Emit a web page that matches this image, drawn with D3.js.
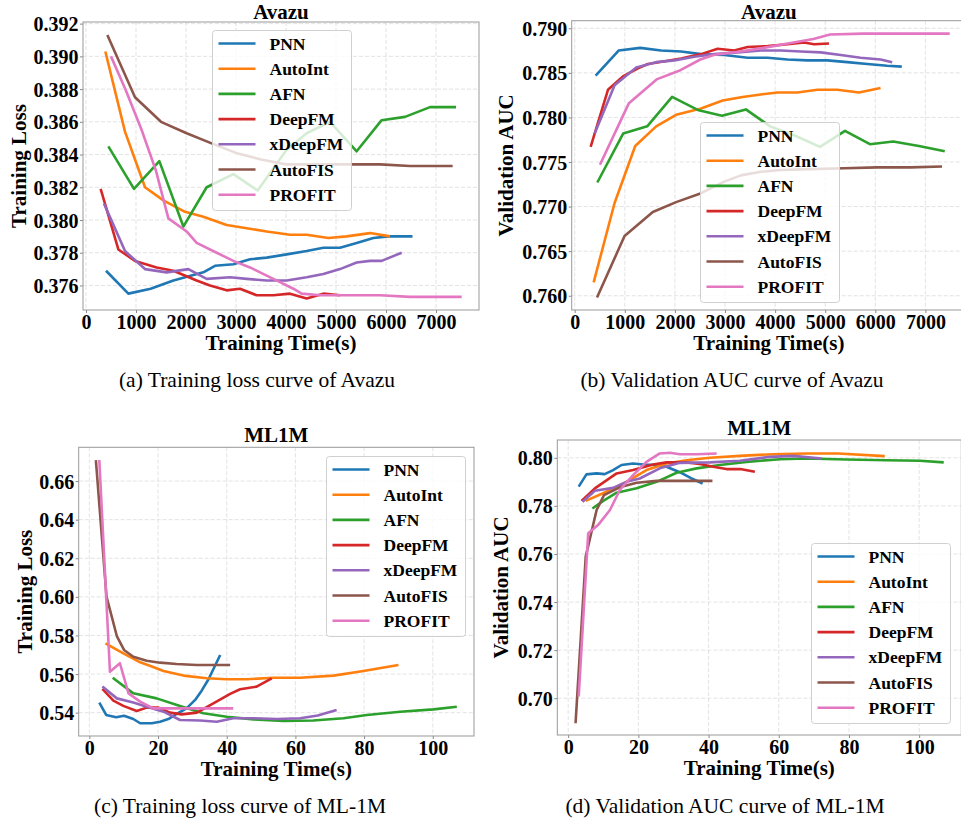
<!DOCTYPE html>
<meta charset="utf-8">

<style>
body { margin: 0; background: #fff; }
svg text { font-family: "Liberation Serif", "Times New Roman", serif; }
.tick text { font-size: 20px; font-weight: bold; fill: #000; }
.tick line { stroke: #888; }
.domain { display: none; }
.grid line { stroke: #dcdcdc; stroke-width: 0.8; stroke-dasharray: 4,2; }
.frame { fill: none; stroke: #999; stroke-width: 1; }
.title, .axlabel { font-size: 21px; font-weight: bold; }
.legend text { font-size: 17.5px; font-weight: bold; }
.caption { font-size: 21.5px; }
</style>

<svg class="chart" width="961" height="822"></svg>

<script src="https://d3js.org/d3.v7.min.js"></script>

<script>

var models = ["PNN", "AutoInt", "AFN", "DeepFM", "xDeepFM", "AutoFIS", "PROFIT"];
var colors = ["#1f77b4", "#ff7f0e", "#2ca02c", "#d62728", "#9467bd", "#8c564b", "#e377c2"];

// (a) Avazu training loss, [seconds, loss]
var avazuLossPNN = [[400,.3769],[847,.3755],[1293,.3758],[1747,.3763],[2347,.3768],[2580,.3772],[2947,.3773],[3280,.3776],[3613,.3777],[4013,.3779],[4413,.3781],[4747,.3783],[5080,.3783],[5413,.3786],[5747,.3789],[6047,.3790],[6530,.3790]];
var avazuLossAutoInt = [[387,.3903],[780,.3854],[1180,.3820],[1547,.3812],[1980,.3805],[2347,.3802],[2813,.3797],[3213,.3795],[3613,.3793],[4080,.3791],[4413,.3791],[4847,.3789],[5213,.3790],[5680,.3792],[6080,.3790]];
var avazuLossAFN = [[447,.3845],[960,.3819],[1467,.3836],[1947,.3796],[2413,.3820],[2947,.3828],[3433,.3818],[4013,.3843],[4413,.3853],[4880,.3860],[5413,.3842],[5913,.3861],[6380,.3863],[6880,.3869],[7400,.3869]];
var avazuLossDeepFM = [[293,.3819],[647,.3782],[980,.3775],[1413,.3771],[1747,.3769],[2213,.3763],[2480,.3760],[2813,.3757],[3080,.3758],[3413,.3754],[3747,.3754],[4080,.3755],[4413,.3752],[4747,.3755],[5080,.3754]];
var avazuLossXDeepFM = [[360,.3810],[780,.3781],[1180,.3770],[1613,.3768],[2047,.3770],[2413,.3764],[2880,.3765],[3213,.3764],[3613,.3763],[4013,.3763],[4413,.3765],[4747,.3767],[5080,.3770],[5413,.3774],[5680,.3775],[5913,.3775],[6313,.3780]];
var avazuLossAutoFIS = [[427,.3913],[980,.3875],[1500,.3860],[2013,.3853],[2500,.3847],[3000,.3841],[3500,.3837],[4000,.3834],[4500,.3834],[5147,.3834],[5880,.3834],[6480,.3833],[7333,.3833]];
var avazuLossPROFIT = [[500,.3900],[800,.3879],[1113,.3855],[1400,.3830],[1647,.3801],[2013,.3793],[2213,.3786],[2613,.3780],[2947,.3775],[3280,.3771],[3613,.3766],[3880,.3762],[4147,.3758],[4313,.3755],[4680,.3754],[5213,.3754],[5880,.3754],[6480,.3753],[7513,.3753]];

// (b) Avazu validation AUC
var avazuAucPNN = [[418,.7847],[876,.7875],[1307,.7878],[1725,.7875],[2123,.7874],[2522,.7871],[2986,.7870],[3451,.7867],[3849,.7867],[4247,.7865],[4645,.7864],[5043,.7864],[5441,.7862],[5839,.7860],[6238,.7858],[6528,.7857]];
var avazuAucAutoInt = [[378,.7615],[796,.7704],[1208,.7768],[1626,.7790],[2024,.7803],[2522,.7810],[2953,.7819],[3351,.7823],[3749,.7826],[4048,.7828],[4446,.7828],[4844,.7831],[5242,.7831],[5673,.7828],[6105,.7833]];
var avazuAucAFN = [[451,.7727],[969,.7782],[1447,.7790],[1944,.7823],[2475,.7808],[2940,.7802],[3417,.7809],[3900,.7790],[4380,.7780],[4897,.7767],[5395,.7785],[5892,.7770],[6357,.7773],[6870,.7768],[7386,.7762]];
var avazuAucDeepFM = [[318,.7767],[664,.7831],[962,.7846],[1261,.7855],[1460,.7860],[1800,.7863],[2123,.7866],[2522,.7871],[2853,.7877],[3185,.7875],[3451,.7879],[3849,.7880],[4247,.7882],[4579,.7884],[4778,.7882],[5076,.7883]];
var avazuAucXDeepFM = [[398,.7782],[796,.7836],[1228,.7856],[1626,.7862],[1991,.7864],[2389,.7868],[2787,.7871],[3252,.7873],[3716,.7875],[4114,.7875],[4512,.7874],[4910,.7873],[5309,.7870],[5707,.7867],[6105,.7865],[6337,.7862]];
var avazuAucAutoFIS = [[445,.7598],[995,.7667],[1559,.7694],[2024,.7705],[2522,.7715],[2986,.7728],[3318,.7735],[3716,.7739],[4114,.7741],[4711,.7742],[5375,.7743],[6038,.7744],[6702,.7744],[7332,.7745]];
var avazuAucPROFIT = [[504,.7747],[1082,.7816],[1646,.7843],[2110,.7853],[2508,.7865],[2774,.7870],[3300,.7874],[3769,.7878],[4366,.7884],[4764,.7888],[5096,.7893],[5760,.7894],[6424,.7894],[7485,.7894]];

// (c) ML1M training loss
var mlLossPNN = [[2.9,.5452],[4.9,.5388],[7.8,.5376],[10.1,.5384],[12.8,.5367],[14.8,.5345],[18.2,.5345],[20.6,.5353],[23,.5367],[25.4,.5393],[28.3,.5422],[30.8,.5466],[32.7,.5514],[34.7,.5573],[38.1,.5699]];
var mlLossAutoInt = [[4.7,.5759],[9.9,.5707],[14.8,.5661],[18,.5640],[21.6,.5616],[27.4,.5592],[34.2,.5578],[40,.5573],[45.8,.5573],[53.6,.5581],[61.4,.5581],[71.1,.5592],[79.8,.5616],[90,.5647]];
var mlLossAFN = [[6.8,.5581],[12.8,.5500],[19.6,.5474],[26.4,.5435],[33.2,.5397],[40,.5379],[47.8,.5365],[56.5,.5357],[65.2,.5359],[74,.5371],[80.8,.5388],[90.5,.5405],[100.2,.5417],[107,.5431]];
var mlLossDeepFM = [[3.8,.5523],[7,.5462],[9.9,.5435],[13.8,.5409],[16.7,.5426],[20.1,.5426],[23.5,.5400],[26.9,.5391],[31.3,.5400],[36.1,.5448],[41,.5497],[43.9,.5521],[48.7,.5535],[53.1,.5578]];
var mlLossXDeepFM = [[3.8,.5535],[8,.5474],[12.8,.5452],[16.7,.5431],[21.6,.5405],[26.4,.5362],[32.2,.5359],[37.1,.5353],[41.9,.5371],[47.8,.5371],[54.6,.5367],[61.4,.5371],[66.5,.5385],[72,.5414]];
var mlLossAutoFIS = [[1.9,.6709],[5,.6001],[8,.5797],[10.1,.5725],[12.8,.5690],[16.7,.5669],[20.6,.5659],[25.4,.5652],[31.3,.5647],[41,.5647]];
var mlLossPROFIT = [[2.9,.6709],[6,.5612],[8.9,.5656],[11.4,.5500],[14.8,.5457],[18.6,.5422],[23.5,.5422],[32.2,.5422],[41.9,.5422]];

// (d) ML1M validation AUC
var mlAucPNN = [[3,.7880],[5.2,.7931],[8.1,.7935],[10.4,.7932],[12.8,.7949],[15.2,.7970],[18.5,.7976],[21.4,.7972],[25.2,.7970],[28,.7963],[31.8,.7940],[35,.7915],[38.3,.7893]];
var mlAucAutoInt = [[5,.7821],[10.9,.7859],[16.6,.7900],[22.3,.7949],[28,.7976],[33.7,.7990],[40.4,.8000],[48.9,.8008],[58.4,.8015],[67.9,.8018],[76.9,.8018],[90.2,.8007]];
var mlAucAFN = [[6.9,.7789],[10,.7821],[13.8,.7855],[19.5,.7873],[25.2,.7900],[30.9,.7938],[36.6,.7956],[43.2,.7970],[50.8,.7983],[60.3,.7994],[67.9,.7997],[79.3,.7993],[90.7,.7990],[100.2,.7988],[107,.7981]];
var mlAucDeepFM = [[3.8,.7821],[7.6,.7873],[13.8,.7935],[18.5,.7949],[24.2,.7972],[28,.7981],[33.7,.7981],[37.5,.7974],[41.3,.7963],[45.1,.7953],[49,.7953],[53.2,.7942]];
var mlAucXDeepFM = [[4.1,.7817],[7.6,.7863],[12.8,.7875],[16.6,.7900],[20.4,.7914],[26.1,.7956],[31.8,.7979],[40.4,.7981],[48.9,.7988],[57.5,.8004],[64.1,.8008],[72.2,.7997]];
var mlAucAutoFIS = [[2.1,.6896],[5,.7589],[8.1,.7783],[10.2,.7845],[14.7,.7877],[19.5,.7896],[25.2,.7904],[31.8,.7904],[41.1,.7904]];
var mlAucPROFIT = [[3,.7007],[5.7,.7686],[8.5,.7720],[11.9,.7783],[14.7,.7866],[18.5,.7928],[22.3,.7983],[26.1,.8018],[29,.8021],[31.8,.8015],[36.6,.8015],[42.3,.8018]];

var avazuTicksX = [0, 1000, 2000, 3000, 4000, 5000, 6000, 7000];
var mlTicksX = [0, 20, 40, 60, 80, 100];
var avazuLossTicks = [0.376, 0.378, 0.380, 0.382, 0.384, 0.386, 0.388, 0.390, 0.392];
var avazuAucTicks = [0.760, 0.765, 0.770, 0.775, 0.780, 0.785, 0.790];
var mlLossTicks = [0.54, 0.56, 0.58, 0.60, 0.62, 0.64, 0.66];
var mlAucTicks = [0.70, 0.72, 0.74, 0.76, 0.78, 0.80];

var panels = [
  { id: "a", title: "Avazu", ylabel: "Training Loss", caption: "(a) Training loss curve of Avazu",
    box: [83, 22, 479, 310], xdom: [-60, 7860], ydom: [0.3745, 0.3921], xt: avazuTicksX, yt: avazuLossTicks, yf: ".3f",
    series: [avazuLossPNN, avazuLossAutoInt, avazuLossAFN, avazuLossDeepFM, avazuLossXDeepFM, avazuLossAutoFIS, avazuLossPROFIT],
    legend: [212.5, 30.5], ylx: 19, capx: 257, capy: 387 },
  { id: "b", title: "Avazu", ylabel: "Validation AUC", caption: "(b) Validation AUC curve of Avazu",
    box: [571.7, 20.7, 966, 310], xdom: [-60, 7810], ydom: [0.7584, 0.79085], xt: avazuTicksX, yt: avazuAucTicks, yf: ".3f",
    series: [avazuAucPNN, avazuAucAutoInt, avazuAucAFN, avazuAucDeepFM, avazuAucXDeepFM, avazuAucAutoFIS, avazuAucPROFIT],
    legend: [700.5, 122.5], ylx: 506, capx: 732, capy: 387 },
  { id: "c", title: "ML1M", ylabel: "Training Loss", caption: "(c) Training loss curve of ML-1M",
    box: [78.7, 447.3, 474, 736], xdom: [-3.1, 112], ydom: [0.5279, 0.6775], xt: mlTicksX, yt: mlLossTicks, yf: ".2f",
    series: [mlLossPNN, mlLossAutoInt, mlLossAFN, mlLossDeepFM, mlLossXDeepFM, mlLossAutoFIS, mlLossPROFIT],
    legend: [326.5, 456.5], ylx: 25, capx: 240, capy: 813 },
  { id: "d", title: "ML1M", ylabel: "Validation AUC", caption: "(d) Validation AUC curve of ML-1M",
    box: [557.3, 440, 961.3, 735], xdom: [-3.1, 112], ydom: [0.6847, 0.8074], xt: mlTicksX, yt: mlAucTicks, yf: ".2f",
    series: [mlAucPNN, mlAucAutoInt, mlAucAFN, mlAucDeepFM, mlAucXDeepFM, mlAucAutoFIS, mlAucPROFIT],
    legend: [811.5, 543.5], ylx: 501, capx: 725, capy: 813 }
];

var svg = d3.select("svg.chart");
var defs = svg.append("defs");

panels.forEach(function(p) {
  var x0 = p.box[0], y0 = p.box[1], x1 = p.box[2], y1 = p.box[3];
  var x = d3.scaleLinear().domain(p.xdom).range([x0, x1]);
  var y = d3.scaleLinear().domain(p.ydom).range([y1, y0]);
  var g = svg.append("g");

  defs.append("clipPath").attr("id", "clip-" + p.id)
    .append("rect").attr("x", x0).attr("y", y0).attr("width", x1 - x0).attr("height", y1 - y0);

  // grid
  g.append("g").attr("class", "grid")
    .selectAll("line.gx").data(p.xt).enter().append("line")
      .attr("x1", function(d) { return x(d); }).attr("x2", function(d) { return x(d); })
      .attr("y1", y0).attr("y2", y1);
  g.append("g").attr("class", "grid")
    .selectAll("line.gy").data(p.yt).enter().append("line")
      .attr("y1", function(d) { return y(d); }).attr("y2", function(d) { return y(d); })
      .attr("x1", x0).attr("x2", x1);

  // axes
  g.append("g").attr("transform", "translate(0," + y1 + ")")
    .call(d3.axisBottom(x).tickValues(p.xt).tickFormat(d3.format("d")).tickSize(3).tickPadding(1.5));
  g.append("g").attr("transform", "translate(" + x0 + ",0)")
    .call(d3.axisLeft(y).tickValues(p.yt).tickFormat(d3.format(p.yf)).tickSize(3).tickPadding(1.5))
    .selectAll("text").attr("dy", "0.35em");

  // lines
  var line = d3.line().x(function(d) { return x(d[0]); }).y(function(d) { return y(d[1]); });
  g.append("g").attr("clip-path", "url(#clip-" + p.id + ")")
    .selectAll("path").data(p.series).enter().append("path")
      .attr("d", line)
      .attr("fill", "none")
      .attr("stroke", function(d, i) { return colors[i]; })
      .attr("stroke-width", 2.6)
      .attr("stroke-linejoin", "round");

  g.append("rect").attr("class", "frame")
    .attr("x", x0).attr("y", y0).attr("width", x1 - x0).attr("height", y1 - y0);

  // legend
  var lg = g.append("g").attr("class", "legend").attr("transform", "translate(" + p.legend[0] + "," + p.legend[1] + ")");
  lg.append("rect").attr("width", 139).attr("height", 180).attr("rx", 3)
    .attr("fill", "#fff").attr("fill-opacity", 0.8).attr("stroke", "#d0d0d0");
  var row = lg.selectAll("g.row").data(models).enter().append("g")
    .attr("transform", function(d, i) { return "translate(0," + (13 + i * 25.2) + ")"; });
  row.append("line").attr("x1", 6).attr("x2", 43)
    .attr("stroke", function(d, i) { return colors[i]; }).attr("stroke-width", 2.6);
  row.append("text").attr("x", 57).attr("dy", "0.35em").text(function(d) { return d; });

  // titles and labels
  var cx = (x0 + x1) / 2;
  g.append("text").attr("class", "title").attr("x", cx).attr("y", Math.max(y0 - 5, 19))
    .attr("text-anchor", "middle").text(p.title);
  g.append("text").attr("class", "axlabel").attr("x", cx).attr("y", y1 + 40)
    .attr("text-anchor", "middle").text("Training Time(s)");
  g.append("text").attr("class", "axlabel")
    .attr("transform", "translate(" + p.ylx + "," + ((y0 + y1) / 2) + ") rotate(-90)")
    .attr("text-anchor", "middle").attr("dy", "0.35em").text(p.ylabel);
  g.append("text").attr("class", "caption").attr("x", p.capx).attr("y", p.capy)
    .attr("text-anchor", "middle").text(p.caption);
});

</script>
